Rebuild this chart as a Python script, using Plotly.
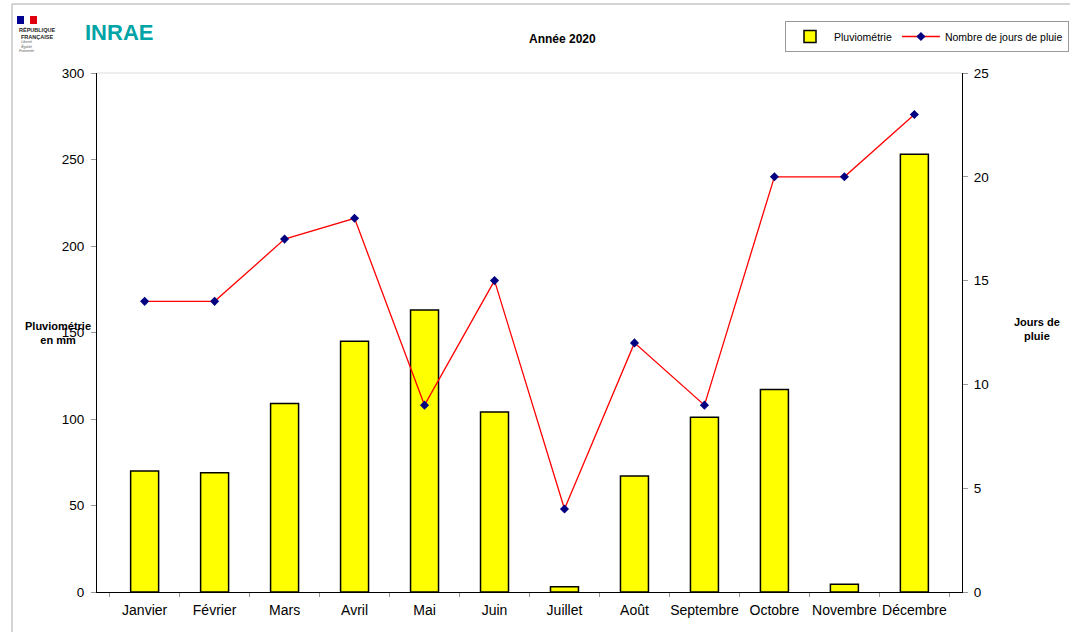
import plotly.graph_objects as go

mois = ["Janvier", "Février", "Mars", "Avril", "Mai", "Juin", "Juillet",
        "Août", "Septembre", "Octobre", "Novembre", "Décembre"]
pluviometrie = [70, 69, 109, 145, 163, 104, 3, 67, 101, 117, 4.5, 253]
jours_pluie = [14, 14, 17, 18, 9, 15, 4, 12, 9, 20, 20, 23]

W, H = 1070, 632
L, R, T, B = 97, 108, 73, 40
pw, ph = W - L - R, H - T - B

def px(x):
    return (x - L) / pw

def py(y):
    return (H - B - y) / ph

FONT = "Liberation Sans, Arial, sans-serif"

fig = go.Figure()
fig.add_trace(go.Bar(
    x=mois, y=pluviometrie, name="Pluviométrie",
    marker=dict(color="#FFFF00", line=dict(color="black", width=1.5)),
    width=0.4, yaxis="y",
))
fig.add_trace(go.Scatter(
    x=mois, y=jours_pluie, name="Nombre de jours de pluie",
    mode="lines+markers", yaxis="y2",
    line=dict(color="#FF0000", width=1.3),
    marker=dict(symbol="diamond", color="#000080", size=7),
))

axis_common = dict(showgrid=False, zeroline=False, showline=True, linecolor="black",
                   linewidth=1.2, ticks="outside", tickcolor="#999999", ticklen=5,
                   automargin=False,
                   tickfont=dict(size=13.5, color="black", family=FONT))

fig.update_layout(
    width=W, height=H,
    margin=dict(l=L, r=R, t=T, b=B, autoexpand=False),
    paper_bgcolor="white", plot_bgcolor="white",
    font=dict(family=FONT, color="black"),
    showlegend=True,
    xaxis=dict(showgrid=False, zeroline=False, showline=True, linecolor="black",
               linewidth=1.2, ticks="outside", tickson="boundaries", tickcolor="#999999",
               ticklen=4, tickangle=0, automargin=False, ticklabelstandoff=5,
               tickfont=dict(size=14, color="black", family=FONT)),
    yaxis=dict(range=[0, 300], dtick=50, ticklabelstandoff=4, **axis_common),
    yaxis2=dict(range=[0, 25], dtick=5, overlaying="y", side="right",
                ticklabelstandoff=3, **axis_common),
    legend=dict(orientation="h", x=px(785), y=py(21), xanchor="left", yanchor="top",
                bordercolor="#999999", borderwidth=1, bgcolor="white",
                font=dict(size=10.5, family=FONT), itemwidth=38,
                tracegroupgap=0),
    bargap=0.6,
    hovermode=False,
)

annotations = [
    dict(text="<b>Année 2020</b>", x=px(562), y=py(39), font=dict(size=12)),
    dict(text="<b>Pluviométrie<br>en mm</b>", x=px(58), y=py(333), font=dict(size=11)),
    dict(text="<b>Jours de<br>pluie</b>", x=px(1037), y=py(329), font=dict(size=11)),
    dict(text="<b>INRAE</b>", x=px(119), y=py(33), font=dict(size=22, color="#00A3A6")),
    dict(text="<b>RÉPUBLIQUE<br>FRANÇAISE</b>", x=px(17), y=py(33), xanchor="left",
         font=dict(size=5.5, color="#222222")),
    dict(text="<i>Liberté<br>Égalité<br>Fraternité</i>", x=px(17), y=py(47), xanchor="left",
         font=dict(size=3.5, color="#555555")),
]
for a in annotations:
    a.update(xref="paper", yref="paper", showarrow=False)
    a.setdefault("xanchor", "center")
    a.setdefault("yanchor", "middle")
fig.update_layout(annotations=annotations)

shapes = [
    dict(type="line", x0=px(12), x1=px(1075), y0=py(4), y1=py(4), line=dict(color="#AAAAAA", width=1)),
    dict(type="line", x0=px(12), x1=px(12), y0=py(4), y1=py(640), line=dict(color="#AAAAAA", width=1)),
    dict(type="line", x0=0, x1=1, y0=1, y1=1, line=dict(color="#DDDDDD", width=1)),
    dict(type="rect", x0=px(17), x1=px(24), y0=py(16), y1=py(24), fillcolor="#000091", line_width=0),
    dict(type="rect", x0=px(24), x1=px(30), y0=py(16), y1=py(24), fillcolor="#FFFFFF", line_width=0),
    dict(type="rect", x0=px(30), x1=px(37), y0=py(16), y1=py(24), fillcolor="#E1000F", line_width=0),
]
for s in shapes:
    s.update(xref="paper", yref="paper")
fig.update_layout(shapes=shapes)

fig.write_html("out.html", config={"displayModeBar": False},
               post_script="document.body.style.margin='0';")
